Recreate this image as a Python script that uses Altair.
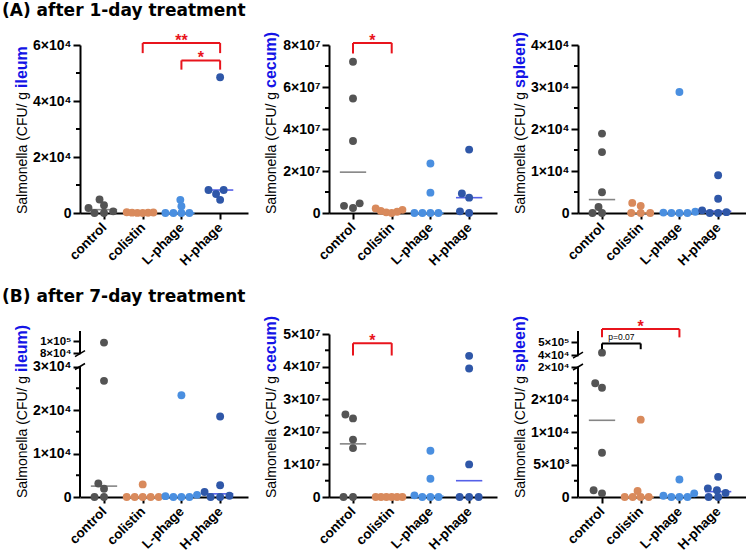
import numpy as np
import pandas as pd
import altair as alt

GROUPS = ["control", "colistin", "L-phage", "H-phage"]
POINT_COLORS = ["#545454", "#D98A5C", "#4A8FE0", "#2F57A8"]
MEDIAN_COLORS = ["#858585", "#E0935F", "#5B9BE8", "#5560E8"]
RED = "#E8141C"
BLUE_TXT = "#1414E6"
FONT = "Liberation Sans"

# ---------------- data (CFU / g) ----------------
# (A) after 1-day treatment
a_ileum_control = [4800, 2750, 1800, 600, 0, 0]
a_ileum_colistin = [250, 180, 120, 80, 40, 0]
a_ileum_lphage = [4700, 2400, 0, 0, 0, 0]
a_ileum_hphage = [48500, 8200, 8200, 6800, 4700]
a_ileum_ticks = [0, 20000, 40000, 60000]
a_ileum_labels = ["0", "2×10⁴", "4×10⁴", "6×10⁴"]
a_ileum_minor = [10000, 30000, 50000]

a_cecum_control = [72000000, 54500000, 34300000, 4600000, 3400000, 2400000]
a_cecum_colistin = [2200000, 1500000, 1000000, 600000, 300000, 0]
a_cecum_lphage = [23600000, 9700000, 0, 0, 0, 0]
a_cecum_hphage = [30200000, 9300000, 7300000, 800000, 0]
a_cecum_ticks = [0, 20000000, 40000000, 60000000, 80000000]
a_cecum_labels = ["0", "2×10⁷", "4×10⁷", "6×10⁷", "8×10⁷"]
a_cecum_minor = [10000000, 30000000, 50000000, 70000000]

a_spleen_control = [18900, 14500, 4950, 1440, 0, 0]
a_spleen_colistin = [2400, 1700, 0, 0, 0]
a_spleen_lphage = [28800, 300, 100, 0, 0, 0]
a_spleen_hphage = [9000, 3400, 640, 200, 0, 0]
a_spleen_ticks = [0, 10000, 20000, 30000, 40000]
a_spleen_labels = ["0", "1×10⁴", "2×10⁴", "3×10⁴", "4×10⁴"]
a_spleen_minor = [5000, 15000, 25000, 35000]

# (B) after 7-day treatment
b_ileum_control = [98000, 26700, 3100, 1900, 0, 0]
b_ileum_colistin = [2900, 0, 0, 0, 0, 0]
b_ileum_lphage = [23400, 500, 200, 0, 0, 0]
b_ileum_hphage = [18500, 2700, 1150, 300, 0, 0]
b_ileum_ticks = [0, 10000, 20000, 30000, 80000, 100000]
b_ileum_labels = ["0", "1×10⁴", "2×10⁴", "3×10⁴", "8×10⁴", "1×10⁵"]
b_ileum_minor = [5000, 15000, 25000]
b_ileum_small = [80000, 100000]

b_cecum_control = [25300000, 24100000, 17600000, 15000000, 0, 0]
b_cecum_colistin = [0, 0, 0, 0, 0, 0]
b_cecum_lphage = [14200000, 5600000, 500000, 0, 0, 0]
b_cecum_hphage = [43300000, 39400000, 10000000, 0, 0, 0]
b_cecum_ticks = [0, 10000000, 20000000, 30000000, 40000000, 50000000]
b_cecum_labels = ["0", "1×10⁷", "2×10⁷", "3×10⁷", "4×10⁷", "5×10⁷"]
b_cecum_minor = [5000000, 15000000, 25000000, 35000000, 45000000]

b_spleen_control = [42000, 17500, 16800, 6800, 1030, 560]
b_spleen_colistin = [11900, 920, 0, 0, 0, 0]
b_spleen_lphage = [2700, 560, 200, 0, 0, 0]
b_spleen_hphage = [3100, 1330, 1030, 620, 0, 0]
b_spleen_ticks = [0, 5000, 10000, 15000, 20000, 40000, 50000]
b_spleen_labels = ["0", "5×10³", "1×10⁴", "2×10⁴", "2×10⁴", "4×10⁴", "5×10⁵"]
b_spleen_minor = [2500, 7500, 12500, 17500]
b_spleen_small = [20000, 40000, 50000]

# significance brackets: (group a, group b, top, leg bottom, colour, text)
a_ileum_brackets = [(1, 3, 60700, 57100, RED, "**"), (2, 3, 54500, 51200, RED, "*")]
a_cecum_brackets = [(0, 1, 81000000, 76000000, RED, "*")]
b_cecum_brackets = [(0, 1, 47200000, 43400000, RED, "*")]
b_spleen_brackets = [(0, 2, 60500, 54000, RED, "*"), (0, 1, 49200, 44700, "black", "p=0.07")]

# ---------------- layout constants ----------------
X_MIN, X_MAX = -0.62, 3.72
W = 168
H_A, H_B = 168, 166
PPU = W / (X_MAX - X_MIN)


def swarm(px, dx0=9.5, dy0=6.5, limit=16.0):
    n = len(px)
    order = sorted(range(n), key=lambda i: (px[i], i))
    placed, offs = [], [0.0] * n
    for i in order:
        y = px[i]
        cands = [0.0]
        for (qx, qy) in placed:
            dy = abs(y - qy)
            if dy < dy0:
                dx = dx0 * np.sqrt(1 - (dy / dy0) ** 2)
                cands += [qx + dx, qx - dx]
        cands.sort(key=lambda c: (round(abs(c), 6), c))
        chosen = cands[-1]
        for c in cands:
            ok = True
            for (qx, qy) in placed:
                dy = abs(y - qy)
                if dy < dy0:
                    need = dx0 * np.sqrt(1 - (dy / dy0) ** 2)
                    if abs(c - qx) < need - 1e-6:
                        ok = False
                        break
            if ok:
                chosen = c
                break
        offs[i] = chosen
        placed.append((chosen, y))
    m = max(abs(o) for o in offs) if offs else 0
    if m > limit:
        offs = [o * limit / m for o in offs]
    return offs


def lab_expr(vals, labels):
    expr = "''"
    for v, l in reversed(list(zip(vals, labels))):
        expr = f"datum.value == {v} ? '{l}' : ({expr})"
    return expr


def make_panel(groups_vals, dom, rng, h, ticks, labels, minor, organ,
               brackets=(), broken=None, row_title=None, small=()):
    xs = alt.Scale(domain=[X_MIN, X_MAX], nice=False, zero=False)
    ys = alt.Scale(domain=dom, range=rng, nice=False, zero=False)

    pts, meds = [], []
    for gi, vals in enumerate(groups_vals):
        px = [h - float(np.interp(v, dom, rng)) for v in vals]
        offs = swarm(px)
        for v, o in zip(vals, offs):
            pts.append(dict(g=GROUPS[gi], xv=gi + o / PPU, v=v, c=POINT_COLORS[gi]))
        meds.append(dict(x1=gi - 0.34, x2=gi + 0.34, y=float(np.median(vals)),
                         c=MEDIAN_COLORS[gi]))

    if small:
        test = " || ".join(f"datum.value == {v}" for v in small)
        lfs = {"condition": {"test": test, "value": 11.5}, "value": 14}
    else:
        lfs = 14

    xaxis = alt.Axis(values=[0, 1, 2, 3], labelExpr=lab_expr([0, 1, 2, 3], GROUPS),
                     labelAngle=-45, labelAlign="right", labelBaseline="middle",
                     labelFont=FONT, labelFontSize=13.5, labelFontWeight="bold",
                     labelColor="black", labelPadding=6, labelFlush=False,
                     labelOverlap=False, tickSize=6, tickWidth=2, tickColor="black",
                     domainWidth=2, domainColor="black", grid=False, title=None)
    yaxis = alt.Axis(values=ticks, labelExpr=lab_expr(ticks, labels),
                     tickSize=7, tickWidth=2, tickColor="black", domain=broken is None,
                     domainWidth=2, domainColor="black",
                     labelFont=FONT, labelFontSize=lfs, labelFontWeight="bold",
                     labelColor="black", labelPadding=2, labelFlush=False,
                     labelOverlap=False, grid=False, title=None)
    X = lambda f: alt.X(f, scale=xs, axis=xaxis)
    Y = lambda f: alt.Y(f, scale=ys, axis=yaxis)

    med_layer = alt.Chart(pd.DataFrame(meds)).mark_rule(strokeWidth=1.6).encode(
        x=X("x1:Q"), x2="x2", y=Y("y:Q"), color=alt.Color("c:N", scale=None))
    pt_layer = alt.Chart(pd.DataFrame(pts)).mark_circle(size=62, opacity=1).encode(
        x=X("xv:Q"), y=Y("v:Q"), color=alt.Color("c:N", scale=None))
    minor_layer = alt.Chart(pd.DataFrame({"m": minor})).mark_tick(
        thickness=2, size=4, color="black", opacity=1).encode(
        y=Y("m:Q"), x=alt.value(-2))
    layers = [med_layer, pt_layer, minor_layer]

    if broken is not None:
        segs = pd.DataFrame([dict(y=a, y2=b) for a, b in broken])
        layers.append(alt.Chart(segs).mark_rule(strokeWidth=2, color="black").encode(
            x=alt.value(0), y=Y("y:Q"), y2="y2"))
        rr = list(rng)[::-1]
        dd = list(dom)[::-1]
        sl = []
        for e in (broken[0][1], broken[1][0]):
            pe = float(np.interp(e, dom, rng))
            sl.append(dict(ya=float(np.interp(pe + 3, rr, dd)), yb=float(np.interp(pe - 3, rr, dd))))
        layers.append(alt.Chart(pd.DataFrame(sl)).mark_rule(strokeWidth=1.5, color="black").encode(
            x=alt.value(-5), x2=alt.value(5), y=Y("ya:Q"), y2="yb"))

    if brackets:
        segs, stars, notes = [], [], []
        for a, b, top, bot, col, txt in brackets:
            segs += [dict(x=a, x2=a, y=bot, y2=top, c=col),
                     dict(x=a, x2=b, y=top, y2=top, c=col),
                     dict(x=b, x2=b, y=top, y2=bot, c=col)]
            (stars if txt.startswith("*") else notes).append(dict(x=(a + b) / 2, y=top, t=txt, c=col))
        layers.append(alt.Chart(pd.DataFrame(segs)).mark_rule(strokeWidth=2).encode(
            x=X("x:Q"), x2="x2", y=Y("y:Q"), y2="y2",
            color=alt.Color("c:N", scale=None)))
        if stars:
            layers.append(alt.Chart(pd.DataFrame(stars)).mark_text(
                font=FONT, fontSize=16, fontWeight="bold", baseline="alphabetic", dy=3).encode(
                x=X("x:Q"), y=Y("y:Q"), text="t:N", color=alt.Color("c:N", scale=None)))
        if notes:
            layers.append(alt.Chart(pd.DataFrame(notes)).mark_text(
                font=FONT, fontSize=8.5, baseline="alphabetic", dy=-3).encode(
                x=X("x:Q"), y=Y("y:Q"), text="t:N", color=alt.Color("c:N", scale=None)))

    one = pd.DataFrame({"k": [0]})
    layers.append(alt.Chart(one).mark_text(
        angle=270, align="left", baseline="alphabetic", font=FONT, fontSize=14,
        color="black").encode(x=alt.value(-53), y=alt.value(h + 1),
                              text=alt.value("Salmonella (CFU/ g")))
    layers.append(alt.Chart(one).mark_text(
        angle=270, align="left", baseline="alphabetic", font=FONT, fontSize=16,
        fontWeight="bold", color=BLUE_TXT).encode(x=alt.value(-53), y=alt.value(h - 125),
                                                  text=alt.value(organ)))
    if row_title:
        layers.append(alt.Chart(one).mark_text(
            align="left", baseline="alphabetic", font="DejaVu Sans", fontSize=17,
            fontWeight="bold", color="black").encode(x=alt.value(-78), y=alt.value(-29),
                                                     text=alt.value(row_title)))
    return alt.layer(*layers).properties(width=W, height=h)


p1 = make_panel([a_ileum_control, a_ileum_colistin, a_ileum_lphage, a_ileum_hphage],
                [0, 60000], [H_A, 0], H_A, a_ileum_ticks, a_ileum_labels, a_ileum_minor,
                "ileum", a_ileum_brackets, row_title="(A) after 1-day treatment")
p2 = make_panel([a_cecum_control, a_cecum_colistin, a_cecum_lphage, a_cecum_hphage],
                [0, 80000000], [H_A, 0], H_A, a_cecum_ticks, a_cecum_labels, a_cecum_minor,
                "cecum)", a_cecum_brackets)
p3 = make_panel([a_spleen_control, a_spleen_colistin, a_spleen_lphage, a_spleen_hphage],
                [0, 40000], [H_A, 0], H_A, a_spleen_ticks, a_spleen_labels, a_spleen_minor,
                "spleen)")
p4 = make_panel([b_ileum_control, b_ileum_colistin, b_ileum_lphage, b_ileum_hphage],
                [0, 30000, 80000, 118000], [H_B, 35.5, 22, 0], H_B,
                b_ileum_ticks, b_ileum_labels, b_ileum_minor, "ileum)",
                broken=[(0, 30000), (78000, 118000)], row_title="(B) after 7-day treatment",
                small=b_ileum_small)
p5 = make_panel([b_cecum_control, b_cecum_colistin, b_cecum_lphage, b_cecum_hphage],
                [0, 50000000], [H_B, 3], H_B, b_cecum_ticks, b_cecum_labels, b_cecum_minor,
                "cecum)", b_cecum_brackets)
p6 = make_panel([b_spleen_control, b_spleen_colistin, b_spleen_lphage, b_spleen_hphage],
                [0, 20000, 40000, 59000], [H_B, 36, 24.2, 0], H_B,
                b_spleen_ticks, b_spleen_labels, b_spleen_minor, "spleen)",
                b_spleen_brackets, broken=[(0, 20000), (40000, 59000)], small=b_spleen_small)

chart = alt.concat(p1, p2, p3, p4, p5, p6, columns=3,
                   spacing={"row": 118, "column": 81}, bounds="flush").properties(
    padding={"left": 2, "top": 2, "right": 0, "bottom": 0},
    background="white").configure_view(stroke=None)

chart.save("out.html", embed_options={"renderer": "svg", "actions": False})
